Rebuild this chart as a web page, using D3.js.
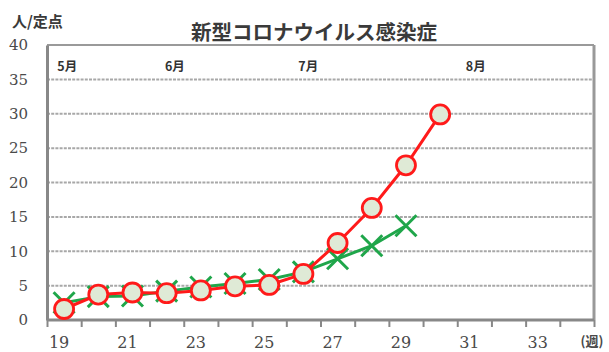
<!DOCTYPE html>
<html><head><meta charset="utf-8">
<script src="https://cdn.jsdelivr.net/npm/d3@7"></script>
<style>body{margin:0;background:#fff}svg{display:block}</style>
</head><body>
<script>
const weeks = [19,20,21,22,23,24,25,26,27,28,29,30,31,32,33,34];
const tickLabels = [19,21,23,25,27,29,31,33];
const redWeeks = [19,20,21,22,23,24,25,26,27,28,29,30];
const redValues = [1.6,3.7,4.0,3.9,4.3,4.9,5.1,6.7,11.2,16.3,22.5,29.9];
const greenWeeks = [19,20,21,22,23,24,25,26,27,28,29];
const greenValues = [2.5,3.4,3.5,4.2,4.8,5.3,5.9,7.0,8.9,10.8,13.7];
const yTicks = [0,5,10,15,20,25,30,35,40];
const months = ["5月","6月","7月","8月"];
const monthWeeks = [18.8,21.95,25.85,30.75];
const title = "新型コロナウイルス感染症";
const yUnit = "人/定点";
const xUnit = "(週)";

const W = 609, H = 352;
const svg = d3.select("body").append("svg").attr("width", W).attr("height", H);
const x = d3.scaleLinear().domain([18.5, 34.5]).range([47, 594]);
const y = d3.scaleLinear().domain([0, 40]).range([320, 45]);
const textCol = "#4a4a4a";

// gridlines
svg.append("g").selectAll("line").data(yTicks.filter(v => v > 0 && v < 40)).join("line")
  .attr("x1", x.range()[0]).attr("x2", x.range()[1])
  .attr("y1", d => y(d)).attr("y2", d => y(d))
  .attr("stroke", "#a8a8a8").attr("stroke-width", 2).attr("stroke-dasharray", "3,1.2");

// box: top and right
svg.append("line").attr("x1", x.range()[0]).attr("x2", x.range()[1]).attr("y1", y(40)).attr("y2", y(40))
  .attr("stroke", "#9a9a9a").attr("stroke-width", 2);
svg.append("line").attr("x1", x.range()[1]).attr("x2", x.range()[1]).attr("y1", y(40)).attr("y2", y(0))
  .attr("stroke", "#999").attr("stroke-width", 3);

// y axis
const yAxis = d3.axisLeft(y).tickValues(yTicks).tickSize(0).tickPadding(19);
const gy = svg.append("g").attr("transform", `translate(${x.range()[0]},0)`).call(yAxis);
gy.select(".domain").attr("stroke", "#888").attr("stroke-width", 3);
gy.selectAll("text").attr("font-family", "DejaVu Serif").attr("font-size", 15).attr("fill", textCol);

// x axis
const xb = d3.range(18.5, 35, 1);
const xAxis = d3.axisBottom(x).tickValues(xb).tickSize(7).tickFormat("");
const gx = svg.append("g").attr("transform", `translate(0,${y(0)})`).call(xAxis);
gx.select(".domain").attr("stroke", "#888").attr("stroke-width", 3).attr("d", `M${x.range()[0]},0H${x.range()[1]}`);
gx.selectAll(".tick line").attr("stroke", "#888").attr("stroke-width", 2);
svg.append("g").selectAll("text").data(tickLabels).join("text")
  .attr("x", d => x(d) - 5).attr("y", 348).attr("text-anchor", "middle")
  .attr("font-family", "DejaVu Serif").attr("font-size", 16).attr("fill", textCol).text(d => d);
svg.append("text").attr("x", 592).attr("y", 346).attr("text-anchor", "middle")
  .attr("font-family", "Noto Sans CJK JP").attr("font-size", 13).attr("font-weight", "bold").attr("fill", textCol).text(xUnit);

// month labels
svg.append("g").selectAll("text").data(months).join("text")
  .attr("x", (d, i) => x(monthWeeks[i])).attr("y", 71)
  .attr("font-family", "Noto Sans CJK JP").attr("font-weight", "bold").attr("font-size", 12.5)
  .attr("fill", "#333").text(d => d);

// titles
svg.append("text").attr("x", 314).attr("y", 40).attr("text-anchor", "middle")
  .attr("font-family", "Noto Sans CJK JP").attr("font-weight", "bold").attr("font-size", 20.5)
  .attr("fill", "#3a3a3a").text(title);
svg.append("text").attr("x", 12).attr("y", 27)
  .attr("font-family", "Noto Sans CJK JP").attr("font-weight", "bold").attr("font-size", 15)
  .attr("fill", "#3a3a3a").text(yUnit);

// green series
const green = greenWeeks.map((w, i) => [w, greenValues[i]]);
const line = d3.line().x(d => x(d[0])).y(d => y(d[1]));
svg.append("path").datum(green).attr("d", line).attr("fill", "none")
  .attr("stroke", "#1fa64a").attr("stroke-width", 3);
const s = 10.5;
svg.append("g").selectAll("path").data(green).join("path")
  .attr("d", d => `M${x(d[0])-s},${y(d[1])-s}L${x(d[0])+s},${y(d[1])+s}M${x(d[0])-s},${y(d[1])+s}L${x(d[0])+s},${y(d[1])-s}`)
  .attr("stroke", "#1fa64a").attr("stroke-width", 3).attr("fill", "none");

// red series
const red = redWeeks.map((w, i) => [w, redValues[i]]);
svg.append("path").datum(red).attr("d", line).attr("fill", "none")
  .attr("stroke", "#ff1a1a").attr("stroke-width", 3);
svg.append("g").selectAll("circle").data(red).join("circle")
  .attr("cx", d => x(d[0])).attr("cy", d => y(d[1])).attr("r", 9.5)
  .attr("fill", "#dfead6").attr("stroke", "#ff1a1a").attr("stroke-width", 2.8);
</script>
</body></html>
